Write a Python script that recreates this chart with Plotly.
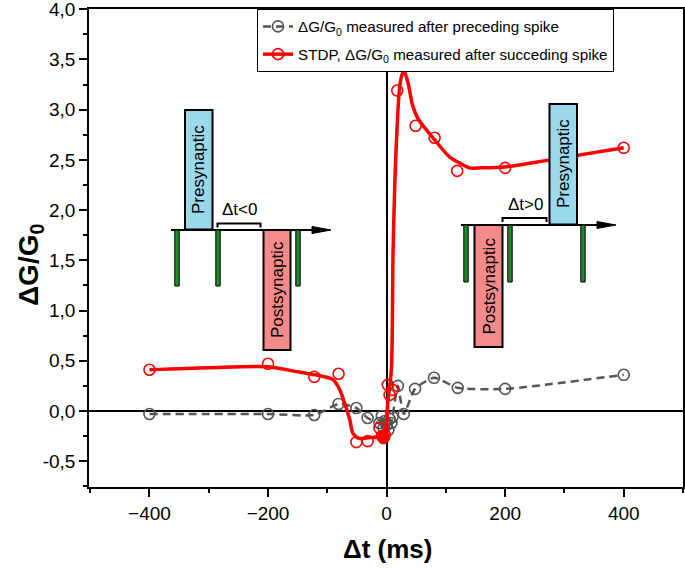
import plotly.graph_objects as go

# ---------------- data ----------------
gray_x = [-400, -200, -122, -81, -51, -32, -12, -8, -5, -3, 0, 3, 5, 8, 10, 19, 29, 48, 80, 120, 200, 400]
gray_y = [-0.03, -0.03, -0.04, 0.07, 0.03, -0.07, -0.12, -0.05, -0.17, -0.10, -0.14, -0.19, -0.08, -0.12, -0.06, 0.25, -0.03, 0.22, 0.33, 0.23, 0.22, 0.36]

red_x = [-400, -200, -122, -81, -51, -32, -12, -8, -5, -3, 2, 5, 10, 18, 49, 81, 119, 200, 400]
red_y = [0.41, 0.47, 0.34, 0.37, -0.31, -0.30, -0.17, -0.25, -0.27, -0.24, 0.26, 0.16, 0.21, 3.19, 2.84, 2.72, 2.39, 2.42, 2.62]

red_filled_x = [-5]
red_filled_y = [-0.26]

fit_x = [-400, -300, -200, -150, -120, -90, -79, -71, -62, -57, -48, -34, -17, -6, -2, 2, 8, 11, 16, 23, 29, 36, 44, 53, 81, 106, 123, 140, 157, 200, 275, 400]
fit_y = [0.41, 0.43, 0.44, 0.39, 0.36, 0.31, 0.21, 0.08, -0.09, -0.22, -0.27, -0.27, -0.26, -0.26, -0.24, 0.08, 0.41, 1.6, 2.6, 3.27, 3.39, 3.27, 3.04, 2.91, 2.70, 2.53, 2.47, 2.42, 2.42, 2.43, 2.50, 2.62]

y_tickvals = [-0.5, 0.0, 0.5, 1.0, 1.5, 2.0, 2.5, 3.0, 3.5, 4.0]
y_ticktext = ["-0,5", "0,0", "0,5", "1,0", "1,5", "2,0", "2,5", "3,0", "3,5", "4,0"]
x_tickvals = [-400, -200, 0, 200, 400]

# ---------------- geometry helpers (pixel -> paper) ----------------
L, R, T, B = 89, 683, 9, 487
W, H = R - L, B - T


def px(x):
    return (x - L) / W


def py(y):
    return (B - y) / H


FONT = "Liberation Sans, Arial, sans-serif"
RED = "#ff0000"
GRAY = "#555555"

fig = go.Figure()

fig.add_trace(go.Scatter(
    x=gray_x, y=gray_y, mode="lines+markers",
    line=dict(color=GRAY, width=2.5, dash="8px,5px", shape="spline", smoothing=0.6),
    marker=dict(symbol="circle-open", size=11, color=GRAY, line=dict(width=1.6, color=GRAY)),
    name="ΔG/G<sub>0</sub> measured after preceding spike", legendgroup="g1",
))

fig.add_trace(go.Scatter(
    x=red_x, y=red_y, mode="markers",
    marker=dict(symbol="circle-open", size=11, color=RED, line=dict(width=1.6, color=RED)),
    showlegend=False,
))
fig.add_trace(go.Scatter(
    x=red_filled_x, y=red_filled_y, mode="markers",
    marker=dict(symbol="circle", size=13, color=RED),
    showlegend=False,
))
fig.add_trace(go.Scatter(
    x=fit_x, y=fit_y, mode="lines",
    line=dict(color=RED, width=3.5, shape="spline", smoothing=0.8),
    showlegend=False,
))
fig.add_trace(go.Scatter(
    x=[None], y=[None], mode="lines+markers",
    line=dict(color=RED, width=3.5),
    marker=dict(symbol="circle-open", size=11, color=RED, line=dict(width=1.6, color=RED)),
    name="STDP, ΔG/G<sub>0</sub> measured after succeding spike", legendgroup="g2",
))

# ---------------- insets (schematics) ----------------
shapes = []
annotations = []
BLUE = "#9bd8ea"
PINK = "#f48a8a"
GREEN = "#1f8a2a"


def rect(x0, y0, x1, y1, fill, lw=2):
    shapes.append(dict(type="rect", xref="paper", yref="paper",
                       x0=px(x0), x1=px(x1), y0=py(y1), y1=py(y0),
                       fillcolor=fill, line=dict(color="black", width=lw), layer="above"))


def line(x0, y0, x1, y1, lw=2):
    shapes.append(dict(type="line", xref="paper", yref="paper",
                       x0=px(x0), x1=px(x1), y0=py(y0), y1=py(y1),
                       line=dict(color="black", width=lw), layer="above"))


def arrowhead(xt, y):
    path = "M {} {} L {} {} L {} {} Z".format(px(xt - 19), py(y - 3.5), px(xt), py(y), px(xt - 19), py(y + 3.5))
    shapes.append(dict(type="path", xref="paper", yref="paper", path=path,
                       fillcolor="black", line=dict(color="black", width=1), layer="above"))


def bracket(x0, x1, y):
    path = "M {} {} L {} {} L {} {} L {} {}".format(px(x0), py(y + 4), px(x0), py(y), px(x1), py(y), px(x1), py(y + 4))
    shapes.append(dict(type="path", xref="paper", yref="paper", path=path,
                       line=dict(color="black", width=2), layer="above"))


def label(x, y, text, angle=0, size=17):
    annotations.append(dict(xref="paper", yref="paper", x=px(x), y=py(y), text=text,
                            showarrow=False, textangle=angle, xanchor="center", yanchor="middle",
                            font=dict(family=FONT, size=size, color="black")))


def spike(x, y0, y1):
    rect(x - 2.2, y0, x + 2.2, y1, GREEN, lw=1)


# left inset
line(171, 230, 315, 230)
arrowhead(331, 230)
for sx in (177, 218, 298):
    spike(sx, 230, 286)
rect(185, 110, 212.5, 229.5, BLUE)
rect(263.5, 230, 290.5, 350, PINK)
bracket(217.5, 260.5, 223.5)
label(239, 209, "Δt<0")
label(199, 170, "Presynaptic", -90)
label(277, 290, "Postsynaptic", -90)

# right inset
line(461, 225, 600, 225)
arrowhead(616, 225)
for sx in (466, 510, 583):
    spike(sx, 225, 282)
rect(474.5, 225, 502.5, 347, PINK)
rect(549.5, 104, 577, 224.5, BLUE)
bracket(502.5, 546.5, 218)
label(525, 205, "Δt>0")
label(488.5, 286, "Postsynaptic", -90)
label(563, 164, "Presynaptic", -90)

annotations.append(dict(xref="paper", yref="paper", x=px(387), y=py(549), text="<b>Δt (ms)</b>",
                        showarrow=False, xanchor="center", yanchor="middle",
                        font=dict(family=FONT, size=26, color="black")))
annotations.append(dict(xref="paper", yref="paper", x=px(30), y=py(265), text="<b>ΔG/G<sub>0</sub></b>",
                        showarrow=False, textangle=-90, xanchor="center", yanchor="middle",
                        font=dict(family=FONT, size=28, color="black")))

axis_common = dict(showline=True, linecolor="black", linewidth=1.5, mirror=True,
                   ticks="outside", tickcolor="black", tickwidth=1.5, ticklen=8,
                   showgrid=False, zeroline=True, zerolinecolor="black", zerolinewidth=1.5,
                   automargin=False, ticklabeloverflow="allow",
                   tickfont=dict(family=FONT, size=19, color="black"))

fig.update_layout(
    width=685, height=568,
    margin=dict(l=L, r=685 - R, t=T, b=568 - B, autoexpand=False),
    paper_bgcolor="white", plot_bgcolor="white",
    font=dict(family=FONT, color="black"),
    xaxis=dict(range=[-502, 500], tickvals=x_tickvals,
               minor=dict(dtick=100, tick0=0, ticks="outside", ticklen=4, tickcolor="black", tickwidth=1.5),
               **axis_common),
    yaxis=dict(range=[-0.757, 4.002], tickvals=y_tickvals, ticktext=y_ticktext,
               minor=dict(dtick=0.25, tick0=0, ticks="outside", ticklen=4, tickcolor="black", tickwidth=1.5),
               **axis_common),
    legend=dict(x=px(257), y=1.0, xanchor="left", yanchor="top",
                bgcolor="white", bordercolor="black", borderwidth=1,
                traceorder="grouped", tracegroupgap=5,
                font=dict(family=FONT, size=15.2, color="black")),
    shapes=shapes, annotations=annotations,
    showlegend=True,
)

fig.write_html("out.html", config={"displayModeBar": False},
               post_script="document.body.style.margin='0';document.body.style.overflow='hidden';")
